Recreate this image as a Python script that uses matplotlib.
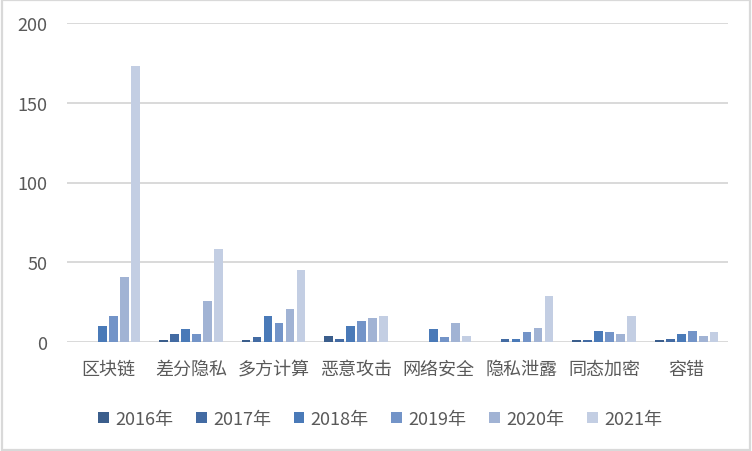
import matplotlib
matplotlib.use("Agg")
import matplotlib.pyplot as plt
import numpy as np
from matplotlib.patches import Rectangle

plt.rcParams['font.family'] = ['Noto Sans CJK SC', 'DejaVu Sans']

categories = ["区块链", "差分隐私", "多方计算", "恶意攻击", "网络安全", "隐私泄露", "同态加密", "容错"]
years = ["2016年", "2017年", "2018年", "2019年", "2020年", "2021年"]
v2016 = [0, 1, 1, 4, 0, 0, 1, 1]
v2017 = [0, 5, 3, 2, 0, 2, 1, 2]
v2018 = [10, 8, 16, 10, 8, 2, 7, 5]
v2019 = [16, 5, 12, 13, 3, 6, 6, 7]
v2020 = [41, 26, 21, 15, 12, 9, 5, 4]
v2021 = [173, 58, 45, 16, 4, 29, 16, 6]
series = [v2016, v2017, v2018, v2019, v2020, v2021]
colors = ["#3b5e8c", "#436ba3", "#4a7ab8", "#7394c8", "#a1b3d4", "#c3cee3"]
yticks = [0, 50, 100, 150, 200]

fig = plt.figure(figsize=(7.52, 4.52), dpi=100)
ax = fig.add_axes([67/752, 1-343/452, (728-67)/752, (343-24)/452])

x = np.arange(len(categories))
step = 0.133
width = 0.105
for i, (vals, c, lab) in enumerate(zip(series, colors, years)):
    ax.bar(x + (i - 2.5) * step, vals, width=width, color=c, label=lab, zorder=3)

ax.set_xlim(-0.5, len(categories) - 0.5)
ax.set_ylim(0, 200)
ax.set_yticks(yticks)
ax.set_yticklabels([str(t) for t in yticks])
ax.set_xticks(x)
ax.set_xticklabels(categories)
ax.grid(axis='y', color='#d9d9d9', linewidth=1.4, zorder=0)
ax.set_axisbelow(True)
for s in ax.spines.values():
    s.set_visible(False)
ax.tick_params(axis='both', length=0, colors='#595959', labelsize=13)
ax.tick_params(axis='y', pad=14)
ax.tick_params(axis='x', pad=13)
for lbl in ax.get_xticklabels() + ax.get_yticklabels():
    lbl.set_color('#595959')

leg = fig.legend(loc='center', bbox_to_anchor=(380/752, 1-420/452), ncol=6, frameon=False,
                 fontsize=13, handlelength=0.6, handleheight=0.6, handletextpad=0.35,
                 columnspacing=1.25, labelcolor='#595959')

fig.patches.append(Rectangle((0.002, 0.003), 0.995, 0.994, transform=fig.transFigure,
                             fill=False, edgecolor='#d9d9d9', linewidth=1.6))

fig.savefig("out.png", dpi=100, facecolor='white')
